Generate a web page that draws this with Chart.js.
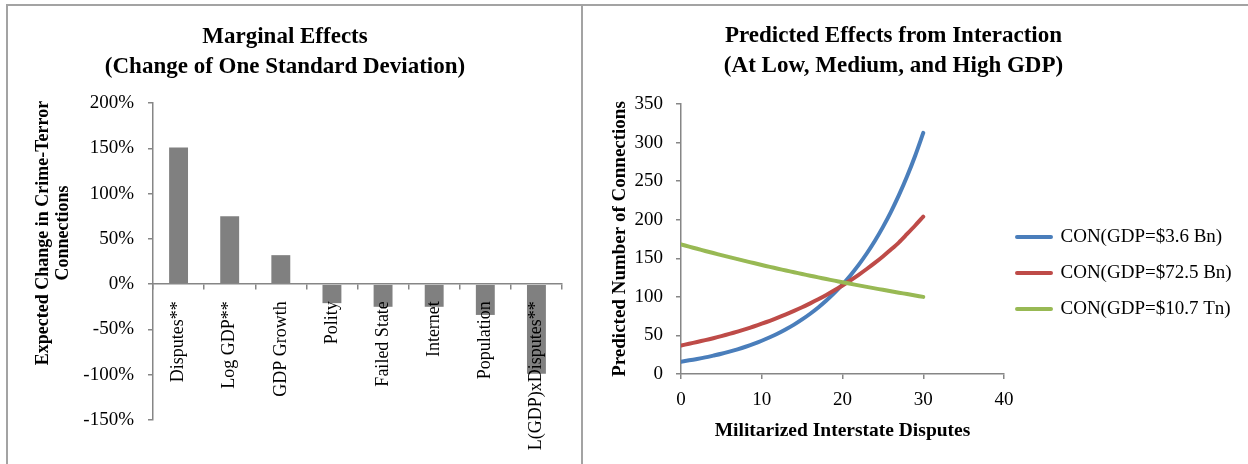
<!DOCTYPE html>
<html>
<head>
<meta charset="utf-8">
<title>Marginal Effects / Predicted Effects</title>
<script src="https://cdn.jsdelivr.net/npm/chart.js@4.4.1/dist/chart.umd.min.js"></script>
<style>
  html, body { margin: 0; padding: 0; background: #fff; }
  body { width: 1248px; height: 464px; position: relative; overflow: hidden; }
  .frame { position: absolute; left: 6px; top: 4px; width: 1260px; height: 480px;
           border-top: 2px solid #a3a3a3; border-left: 2px solid #a3a3a3; }
  .divider { position: absolute; left: 581px; top: 4px; width: 2px; height: 480px; background: #a3a3a3; }
  .panel { position: absolute; top: 6px; height: 458px; }
  #leftPanel { left: 8px; width: 573px; }
  #rightPanel { left: 583px; width: 665px; }
</style>
</head>
<body>
<div class="frame"></div>
<div class="divider"></div>
<div class="panel" id="leftPanel"><canvas id="effectsChart"></canvas></div>
<div class="panel" id="rightPanel"><canvas id="interactionChart"></canvas></div>

<script>
// --- DATA ---
const effectLabels = ['Disputes**', 'Log GDP**', 'GDP Growth', 'Polity', 'Failed State', 'Internet', 'Population', 'L(GDP)xDisputes**'];
const effectValues = [151, 75, 32, -21, -25, -25, -34, -99]; // % change per one SD

const disputes = [0, 1, 2, 3, 4, 5, 6, 7, 8, 9, 10, 11, 12, 13, 14, 15, 16, 17, 18, 19, 20, 21, 22, 23, 24, 25, 26, 27, 28, 29, 30];
const lowGdp = [16.0, 17.7, 19.5, 21.5, 23.8, 26.2, 29.0, 32.0, 35.3, 39.0, 43.1, 47.6, 52.5, 58.0, 64.0, 70.7, 78.1, 86.2, 95.2, 105.1, 116.0, 128.1, 141.4, 156.2, 172.4, 190.4, 210.2, 232.1, 256.3, 283.0, 312.5];
const midGdp = [37.0, 39.2, 41.5, 43.9, 46.4, 49.1, 52.0, 55.0, 58.2, 61.6, 65.2, 69.0, 73.0, 77.3, 81.8, 86.5, 91.6, 96.9, 102.5, 108.5, 114.8, 121.5, 128.6, 136.1, 144.0, 152.4, 161.3, 170.7, 181.5, 192.5, 204.0];
const highGdp = [168.0, 165.1, 162.3, 159.5, 156.8, 154.1, 151.5, 148.9, 146.3, 143.8, 141.3, 138.9, 136.5, 134.2, 131.9, 129.6, 127.4, 125.2, 123.1, 121.0, 118.9, 116.9, 114.9, 112.9, 111.0, 109.1, 107.2, 105.4, 103.6, 101.8, 100.0];
const seriesNames = ['CON(GDP=$3.6 Bn)', 'CON(GDP=$72.5 Bn)', 'CON(GDP=$10.7 Tn)'];

// --- GLOBAL DEFAULTS ---
Chart.defaults.font.family = "'Liberation Serif', 'Times New Roman', serif";
Chart.defaults.color = '#000';
Chart.defaults.animation = false;
Chart.defaults.responsive = true;
Chart.defaults.maintainAspectRatio = false;

const axisGray = '#868686';

function toPoints(ys) {
    return ys.map((y, i) => ({ x: disputes[i], y: y }));
}

// y-axis title drawn by hand so it can sit where Excel put it (not centred on the axis)
function sideTitle(lines, xs, y) {
    return {
        id: 'sideTitle',
        afterDraw(chart) {
            const ctx = chart.ctx;
            ctx.save();
            ctx.font = "bold 18px 'Liberation Serif', 'Times New Roman', serif";
            ctx.fillStyle = '#000';
            ctx.textAlign = 'center';
            ctx.textBaseline = 'middle';
            lines.forEach((line, i) => {
                ctx.save();
                ctx.translate(xs[i], y);
                ctx.rotate(-Math.PI / 2);
                ctx.fillText(line, 0, 0);
                ctx.restore();
            });
            ctx.restore();
        }
    };
}

// nudge legend down/left to match the original placement (and widen its clip box)
const legendShift = {
    id: 'legendShift',
    afterLayout(chart) {
        const lg = chart.legend;
        if (!lg) return;
        lg.left -= 4; lg.right += 60;
        lg.top += 38; lg.bottom += 38;
    }
};

// --- CHART 1: Marginal Effects (Bar) ---
new Chart(document.getElementById('effectsChart'), {
    type: 'bar',
    data: {
        labels: effectLabels,
        datasets: [{
            data: effectValues,
            backgroundColor: '#808080',
            barPercentage: 0.37,
            categoryPercentage: 1
        }]
    },
    options: {
        layout: { padding: { left: 0, right: 19, top: 0, bottom: 44 } },
        plugins: {
            legend: { display: false },
            tooltip: { enabled: false },
            title: {
                display: true,
                text: ['Marginal Effects', '(Change of One Standard Deviation)'],
                font: { size: 23, weight: 'bold', lineHeight: '30px' },
                padding: { top: 16, bottom: 21 },
                color: '#000'
            }
        },
        scales: {
            x: {
                position: { y: 0 },
                grid: { drawOnChartArea: false, offset: true, tickLength: 5, color: axisGray, lineWidth: 1.5 },
                border: { color: axisGray, width: 1.5, z: 1 },
                // z: labels drawn over the negative bars, like the original
                ticks: { z: 1, autoSkip: false, minRotation: 90, maxRotation: 90, padding: 12, font: { size: 18 }, color: '#000' }
            },
            y: {
                min: -150,
                max: 200,
                ticks: {
                    stepSize: 50,
                    padding: 14,
                    font: { size: 19 },
                    color: '#000',
                    callback: function(value) { return value + '%'; }
                },
                grid: { drawOnChartArea: false, tickLength: 5, color: axisGray, lineWidth: 1.5 },
                border: { color: axisGray, width: 1.5 },
                afterFit: function(scale) { scale.width = 145; }
            }
        }
    },
    plugins: [sideTitle(['Expected Change in Crime-Terror', 'Connections'], [35, 55], 227)]
});

// --- CHART 2: Predicted Effects (Line) ---
new Chart(document.getElementById('interactionChart'), {
    type: 'line',
    data: {
        datasets: [
            { label: seriesNames[0], data: toPoints(lowGdp), borderColor: '#4A7EBB', backgroundColor: '#4A7EBB', borderWidth: 4, order: 2 },
            { label: seriesNames[1], data: toPoints(midGdp), borderColor: '#BE4B48', backgroundColor: '#BE4B48', borderWidth: 4, order: 1 },
            { label: seriesNames[2], data: toPoints(highGdp), borderColor: '#98B954', backgroundColor: '#98B954', borderWidth: 4, order: 0 }
        ]
    },
    options: {
        layout: { padding: { left: 0, right: 44, top: 0, bottom: 0 } },
        elements: {
            point: { radius: 0 },
            line: { tension: 0.3, borderCapStyle: 'round', borderJoinStyle: 'round' }
        },
        plugins: {
            tooltip: { enabled: false },
            legend: {
                position: 'right',
                maxWidth: 200,
                labels: {
                    boxWidth: 34, boxHeight: 0, padding: 17,
                    font: { size: 19 }, color: '#000',
                    sort: function(a, b) { return a.datasetIndex - b.datasetIndex; }
                }
            },
            title: {
                display: true,
                text: ['Predicted Effects from Interaction', '(At Low, Medium, and High GDP)'],
                font: { size: 23, weight: 'bold', lineHeight: '30px' },
                padding: { top: 15, bottom: 23 },
                color: '#000'
            }
        },
        scales: {
            x: {
                type: 'linear',
                min: 0,
                max: 40,
                ticks: { stepSize: 10, padding: 10, font: { size: 19 }, color: '#000' },
                grid: { drawOnChartArea: false, tickLength: 5, color: axisGray, lineWidth: 1.5 },
                border: { color: axisGray, width: 1.5 },
                title: {
                    display: true,
                    text: 'Militarized Interstate Disputes',
                    font: { size: 19.5, weight: 'bold' },
                    padding: { top: 0, bottom: 21 },
                    color: '#000'
                },
                afterFit: function(scale) { scale.height = 90; }
            },
            y: {
                min: 0,
                max: 350,
                ticks: { stepSize: 50, padding: 13, font: { size: 19 }, color: '#000' },
                grid: { drawOnChartArea: false, tickLength: 5, color: axisGray, lineWidth: 1.5 },
                border: { color: axisGray, width: 1.5 },
                title: {
                    display: true,
                    text: 'Predicted Number of Connections',
                    font: { size: 19, weight: 'bold' },
                    padding: { top: 26, bottom: 0 },
                    color: '#000'
                },
                afterFit: function(scale) { scale.width = 98; }
            }
        }
    },
    plugins: [legendShift]
});
</script>
</body>
</html>
